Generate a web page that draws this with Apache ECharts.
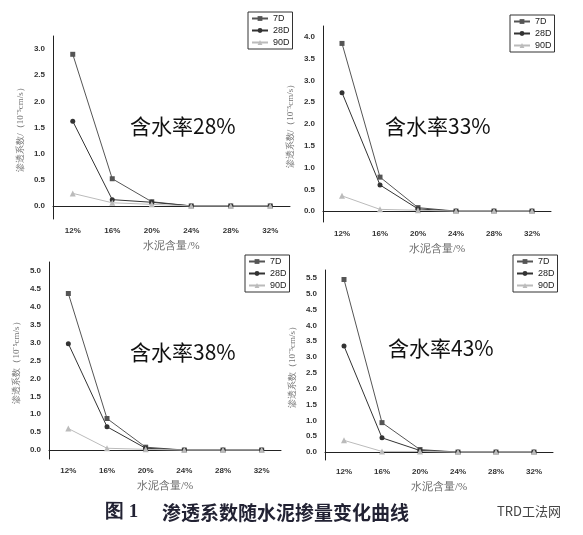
<!DOCTYPE html>
<html><head><meta charset="utf-8">
<script src="https://cdn.jsdelivr.net/npm/echarts@6/dist/echarts.min.js"></script>
<style>html,body{margin:0;padding:0;background:#fff}#c{width:583px;height:535px}</style>
</head><body><div id="c"></div>
<script>
var categories = ['12%','16%','20%','24%','28%','32%'];
var seriesNames = ['7D','28D','90D'];
var p1_7D = [2.90,0.52,0.08,0,0,0], p1_28D = [1.62,0.12,0.07,0,0,0], p1_90D = [0.24,0.06,0.03,0,0,0];
var p2_7D = [3.85,0.78,0.08,0,0,0], p2_28D = [2.72,0.60,0.05,0,0,0], p2_90D = [0.35,0.04,0.02,0,0,0];
var p3_7D = [4.37,0.88,0.08,0,0,0], p3_28D = [2.97,0.65,0.05,0,0,0], p3_90D = [0.60,0.05,0.02,0,0,0];
var p4_7D = [5.45,0.93,0.08,0,0,0], p4_28D = [3.35,0.45,0.05,0,0,0], p4_90D = [0.37,0.02,0.02,0,0,0];
var panelTitles = ['含水率28%','含水率33%','含水率38%','含水率43%'];
var yMax = [3.25,4.25,5.25,5.75];
var yNames = ['渗透系数/（10⁻⁵cm/s）','渗透系数/（10⁻⁵cm/s）','渗透系数（10⁻⁵cm/s）','渗透系数（10⁻⁵cm/s）'];
var xName = '水泥含量/%';
var panels = [[p1_7D,p1_28D,p1_90D],[p2_7D,p2_28D,p2_90D],[p3_7D,p3_28D,p3_90D],[p4_7D,p4_28D,p4_90D]];

var grids = [
  {left:53,width:237,top:36,height:183},
  {left:323,width:228,top:26,height:196},
  {left:49,width:232,top:262,height:197},
  {left:325,width:228,top:270,height:190}
];
var legendPos = [{left:248,top:12},{left:510,top:15},{left:245,top:255},{left:513,top:255}];
var titlePos = [[130,116],[385,116],[130,342],[388,338]];
var styles = [
  {color:'#555',symbol:'rect',size:5},
  {color:'#333',symbol:'circle',size:5},
  {color:'#bbb',symbol:'triangle',size:6}
];
var xAxes=[],yAxes=[],series=[],legends=[],graphics=[];
grids.forEach(function(g,i){
  xAxes.push({type:'category',gridIndex:i,data:categories,boundaryGap:true,
    name:xName,nameLocation:'middle',nameGap:22,
    nameTextStyle:{fontFamily:'serif',fontSize:11,color:'#666'},
    axisLine:{lineStyle:{color:'#222'}},axisTick:{lineStyle:{color:'#222'}},
    axisLabel:{fontSize:8,color:'#333',fontWeight:'bold'}});
  yAxes.push({type:'value',gridIndex:i,min:-0.25,max:yMax[i],interval:0.25,
    name:yNames[i],nameLocation:'middle',nameGap:28,
    nameTextStyle:{fontFamily:'serif',fontSize:9,color:'#777'},
    splitLine:{show:false},
    axisLine:{show:true,lineStyle:{color:'#222'}},axisTick:{lineStyle:{color:'#222'},length:3},
    axisLabel:{fontSize:8,color:'#333',fontWeight:'bold',
      formatter:function(v){var r=Math.round(v*100); return (r>=0 && r%50===0)?(r/100).toFixed(1):'';}}});
  seriesNames.forEach(function(n,k){
    series.push({name:n,type:'line',xAxisIndex:i,yAxisIndex:i,data:panels[i][k],
      symbol:styles[k].symbol,symbolSize:styles[k].size,
      itemStyle:{color:styles[k].color},lineStyle:{color:styles[k].color,width:1}});
  });
  legends.push({data:seriesNames,orient:'vertical',left:legendPos[i].left,top:legendPos[i].top,
    itemWidth:16,itemHeight:6,itemGap:3,padding:[2,3,2,3],borderColor:'#333',borderWidth:1,
    textStyle:{fontSize:9,color:'#222'}});
  graphics.push({type:'text',left:titlePos[i][0],top:titlePos[i][1],
    style:{text:panelTitles[i],font:'21px "Noto Sans CJK SC", serif',fill:'#111'}});
});
graphics.push({type:'text',left:105,top:503,style:{text:'图 1',font:'bold 19px serif',fill:'#223'}});
graphics.push({type:'text',left:162,top:503,style:{text:'渗透系数随水泥掺量变化曲线',font:'bold 19px "Noto Sans CJK SC"',fill:'#223'}});
graphics.push({type:'text',left:497,top:505,style:{text:'TRD工法网',font:'13px "Noto Sans CJK SC"',fill:'#444'}});
var chart = echarts.init(document.getElementById('c'));
chart.setOption({animation:false,grid:grids,xAxis:xAxes,yAxis:yAxes,series:series,legend:legends,graphic:graphics});
</script></body></html>
